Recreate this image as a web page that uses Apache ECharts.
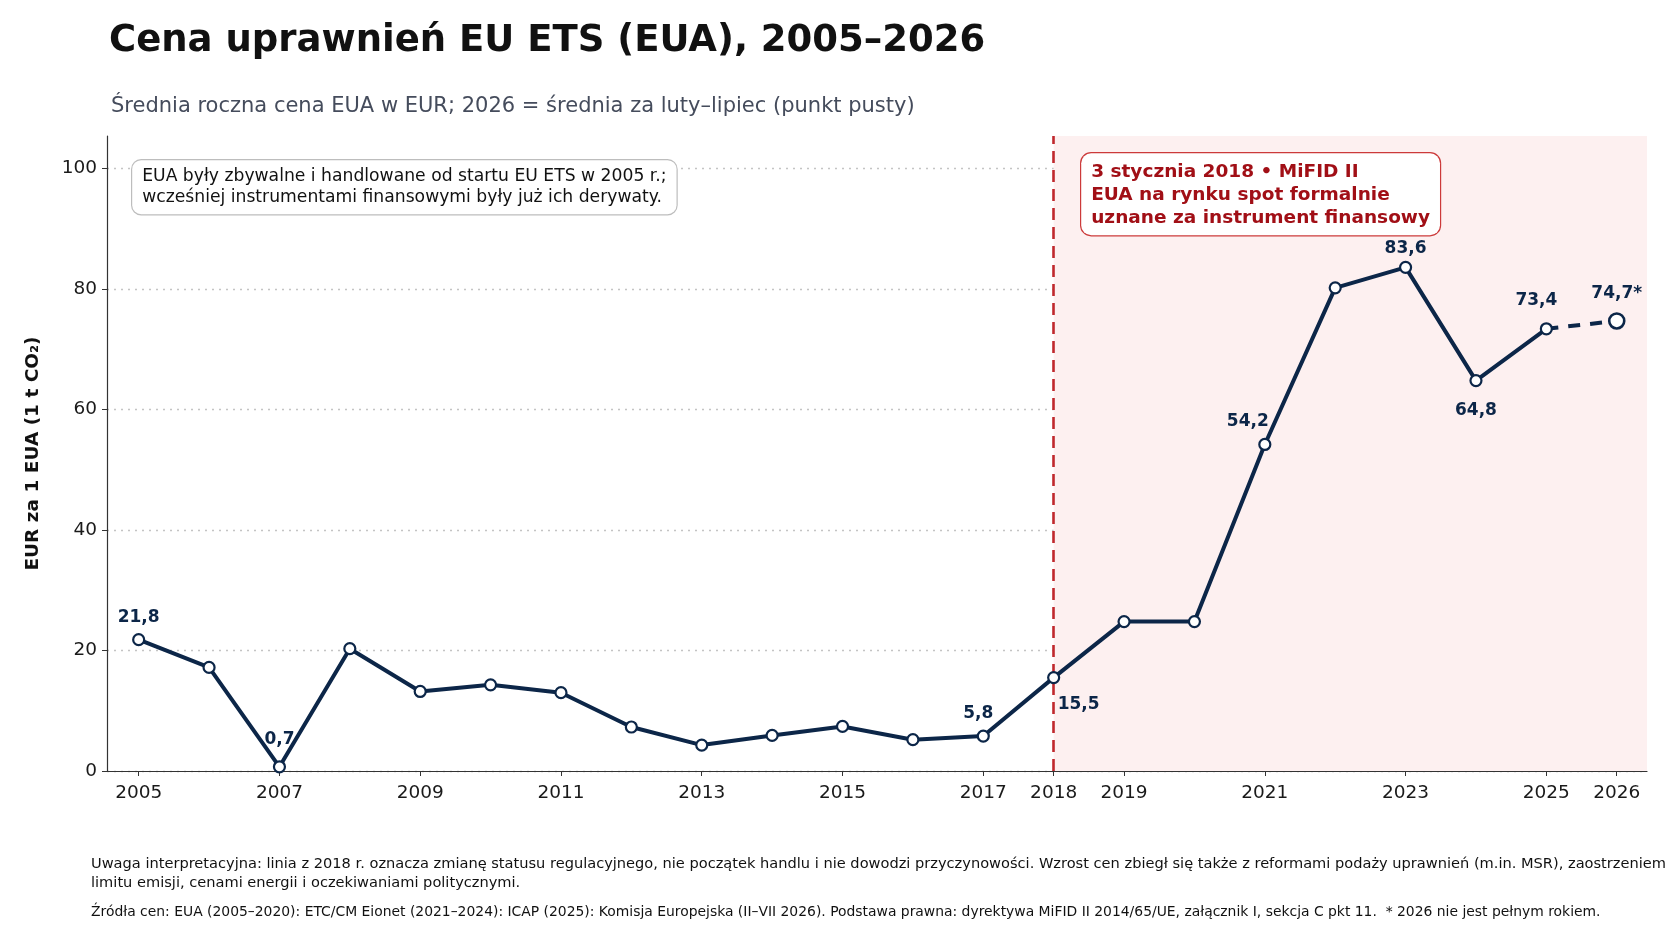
<!DOCTYPE html>
<html>
<head>
<meta charset="utf-8">
<script src="https://cdn.jsdelivr.net/npm/echarts@6/dist/echarts.min.js"></script>
<style>
  html, body { margin: 0; padding: 0; background: #fff; }
  #chart { width: 1672px; height: 941px; }
</style>
</head>
<body>
<div id="chart"></div>
<script>
// average yearly EUA price, EUR
var years = [2005, 2006, 2007, 2008, 2009, 2010, 2011, 2012, 2013, 2014, 2015,
  2016, 2017, 2018, 2019, 2020, 2021, 2022, 2023, 2024, 2025]
var prices = [21.8, 17.2, 0.7, 20.3, 13.2, 14.3, 13.0, 7.3, 4.3, 5.9, 7.4,
  5.2, 5.8, 15.5, 24.8, 24.8, 54.2, 80.2, 83.6, 64.8, 73.4]
// 2026 = Feb-Jul average (not a full year)
var partialYears = [2025, 2026]
var partialPrices = [73.4, 74.7]
var tickYears = [2005, 2007, 2009, 2011, 2013, 2015, 2017, 2018, 2019, 2021, 2023, 2025, 2026]
var yTicks = [0, 20, 40, 60, 80, 100]
var labelledYears = [2005, 2007, 2017, 2018, 2021, 2023, 2024, 2025]

var NAVY = '#0c2648'
var RED = '#c0282d'
var FONT = 'DejaVu Sans'

// where each value label goes
var labelPlace = {
  2005: { position: 'top', distance: 7 },
  2007: { position: 'top', distance: 12 },
  2017: { position: 'top', distance: 7, offset: [-5, 0] },
  2018: { position: 'bottom', distance: 12, offset: [25, 0] },
  2021: { position: 'top', distance: 8, offset: [-17, 0] },
  2023: { position: 'top', distance: 4 },
  2024: { position: 'bottom', distance: 15 },
  2025: { position: 'top', distance: 13, offset: [-10, 0] }
}

function fmt(v) { return v.toFixed(1).replace('.', ',') }

var mainData = years.map(function (y, i) {
  var item = { value: [y, prices[i]] }
  if (labelledYears.indexOf(y) >= 0) {
    var p = labelPlace[y]
    item.label = Object.assign({ show: true, formatter: fmt(prices[i]) }, p)
  }
  return item
})

var partialData = partialYears.map(function (y, i) {
  var item = { value: [y, partialPrices[i]] }
  if (y === 2026) {
    item.symbolSize = 15
    item.label = { show: true, position: 'top', distance: 10, formatter: fmt(partialPrices[i]) + '*' }
  } else {
    item.symbol = 'none'
  }
  return item
})

var chart = echarts.init(document.getElementById('chart'))
var option = {
  animation: false,
  backgroundColor: '#ffffff',
  textStyle: { fontFamily: FONT },
  title: [
    {
      text: 'Cena uprawnień EU ETS (EUA), 2005–2026',
      left: 104, top: 18,
      textStyle: { fontFamily: FONT, fontSize: 37, fontWeight: 'bold', color: '#111' }
    },
    {
      text: 'Średnia roczna cena EUA w EUR; 2026 = średnia za luty–lipiec (punkt pusty)',
      left: 106, top: 91,
      textStyle: { fontFamily: FONT, fontSize: 21, fontWeight: 'normal', color: '#454c5c' }
    }
  ],
  grid: { left: 107, right: 25, top: 136, bottom: 170 },
  xAxis: {
    type: 'value',
    min: 2004.55,
    max: 2026.43,
    splitLine: { show: false },
    axisLine: { lineStyle: { color: '#333', width: 1.2 } },
    axisTick: { show: true, length: 5, customValues: tickYears, lineStyle: { color: '#333' } },
    axisLabel: {
      customValues: tickYears,
      margin: 13,
      fontFamily: FONT, fontSize: 18.5, color: '#1a1a1a',
      formatter: function (v) { return String(v) }
    }
  },
  yAxis: {
    type: 'value',
    min: 0,
    max: 105.4,
    name: 'EUR za 1 EUA (1 t CO₂)',
    nameLocation: 'middle',
    nameGap: 64,
    nameTextStyle: { fontFamily: FONT, fontSize: 18.5, fontWeight: 'bold', color: '#111' },
    axisLine: { show: true, lineStyle: { color: '#333', width: 1.2 } },
    axisTick: { show: true, length: 5, customValues: yTicks, lineStyle: { color: '#333' } },
    axisLabel: {
      customValues: yTicks,
      margin: 10,
      fontFamily: FONT, fontSize: 18.5, color: '#1a1a1a'
    },
    splitLine: {
      show: true,
      lineStyle: { color: '#c4c4c4', type: [2, 5], width: 1.3 }
    }
  },
  series: [
    {
      type: 'line',
      data: mainData,
      z: 5,
      symbol: 'circle',
      symbolSize: 11,
      itemStyle: { color: '#fff', borderColor: NAVY, borderWidth: 2.2 },
      lineStyle: { color: NAVY, width: 4 },
      label: { fontFamily: FONT, fontSize: 17, fontWeight: 'bold', color: NAVY },
      markArea: {
        silent: true,
        itemStyle: { color: '#fdf0f0' },
        data: [[{ xAxis: 2018 }, { xAxis: 2026.43 }]]
      },
      markLine: {
        silent: true,
        symbol: 'none',
        label: { show: false },
        lineStyle: { color: RED, type: [12, 7], width: 2.6 },
        data: [{ xAxis: 2018 }]
      }
    },
    {
      type: 'line',
      data: partialData,
      z: 4,
      symbol: 'circle',
      itemStyle: { color: '#fff', borderColor: NAVY, borderWidth: 2.6 },
      lineStyle: { color: NAVY, width: 4, type: [12, 10] },
      label: { fontFamily: FONT, fontSize: 17, fontWeight: 'bold', color: NAVY }
    }
  ],
  graphic: [
    {
      type: 'text',
      left: 131, top: 159,
      z: 20,
      style: {
        text: 'EUA były zbywalne i handlowane od startu EU ETS w 2005 r.;\nwcześniej instrumentami finansowymi były już ich derywaty.',
        fontFamily: FONT, fontSize: 17.2, lineHeight: 21, fill: '#111',
        backgroundColor: '#fff', borderColor: '#bdbdbd', borderWidth: 1.2, borderRadius: 9,
        padding: [6, 10, 6, 10]
      }
    },
    {
      type: 'text',
      left: 1080, top: 152,
      z: 20,
      style: {
        text: '3 stycznia 2018 • MiFID II\nEUA na rynku spot formalnie\nuznane za instrument finansowy',
        fontFamily: FONT, fontSize: 18.5, fontWeight: 'bold', lineHeight: 23, fill: '#a10f16',
        backgroundColor: '#fff', borderColor: '#cc3a3a', borderWidth: 1.2, borderRadius: 10,
        padding: [7, 10, 6, 10]
      }
    },
    {
      type: 'text',
      left: 91, top: 854,
      style: {
        text: 'Uwaga interpretacyjna: linia z 2018 r. oznacza zmianę statusu regulacyjnego, nie początek handlu i nie dowodzi przyczynowości. Wzrost cen zbiegł się także z reformami podaży uprawnień (m.in. MSR), zaostrzeniem\nlimitu emisji, cenami energii i oczekiwaniami politycznymi.',
        fontFamily: FONT, fontSize: 14.6, lineHeight: 19.5, fill: '#111'
      }
    },
    {
      type: 'text',
      left: 91, top: 905,
      style: {
        text: 'Źródła cen: EUA (2005–2020): ETC/CM Eionet (2021–2024): ICAP (2025): Komisja Europejska (II–VII 2026). Podstawa prawna: dyrektywa MiFID II 2014/65/UE, załącznik I, sekcja C pkt 11.  * 2026 nie jest pełnym rokiem.',
        fontFamily: FONT, fontSize: 13.9, fill: '#111'
      }
    }
  ]
}
chart.setOption(option)
</script>
</body>
</html>
